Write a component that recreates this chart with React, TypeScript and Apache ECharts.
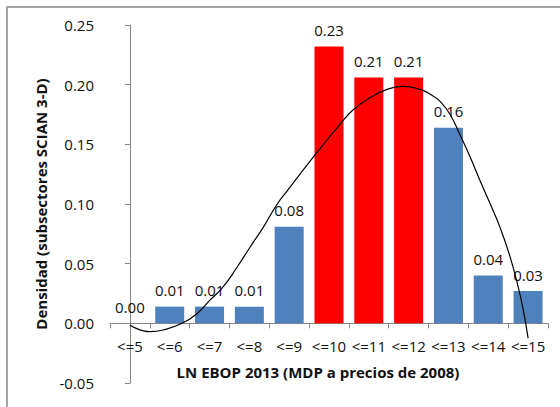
import React, { useEffect, useRef } from "react";
import * as echarts from "echarts";

const categories = ["<=5", "<=6", "<=7", "<=8", "<=9", "<=10", "<=11", "<=12", "<=13", "<=14", "<=15"];
const density = [0.0, 0.014, 0.014, 0.014, 0.081, 0.232, 0.206, 0.206, 0.164, 0.04, 0.027];
const highlighted = ["<=10", "<=11", "<=12"];
const yTicks = [-0.05, 0.0, 0.05, 0.1, 0.15, 0.2, 0.25];

// fitted curve (x in category positions, 0 = "<=5")
const curveX = [0.0, 0.51, 0.83, 1.31, 1.69, 2.01, 2.34, 2.69, 3.02, 3.34, 3.7, 3.95, 4.6, 5.28, 5.61, 6.03, 6.46, 6.86, 7.29, 7.54, 7.79, 8.04, 8.29, 8.55, 8.8, 9.05, 9.3, 9.55, 9.75, 9.88, 10.0];
const curveY = [-0.0014, -0.007, -0.0056, 0.0, 0.0083, 0.0194, 0.0306, 0.047, 0.064, 0.08, 0.1, 0.111, 0.139, 0.167, 0.179, 0.189, 0.196, 0.1986, 0.196, 0.192, 0.186, 0.175, 0.158, 0.139, 0.119, 0.1, 0.08, 0.0555, 0.0306, 0.011, -0.0125];

const FONT = "'Open Sans', sans-serif";
const GRID_TOP = 25;
const GRID_BOTTOM = 24;
const HEIGHT = 407;

export default function App() {
  const ref = useRef<HTMLDivElement>(null);
  useEffect(() => {
    if (!ref.current) return;
    const chart = echarts.init(ref.current, undefined, { renderer: "svg" });
    const yMin = yTicks[0];
    const yMax = yTicks[yTicks.length - 1];
    const plotH = HEIGHT - GRID_TOP - GRID_BOTTOM;
    // distance between the plot's bottom edge and the zero line
    const zeroOffset = ((0 - yMin) / (yMax - yMin)) * plotH;
    chart.setOption({
      animation: false,
      backgroundColor: "#fff",
      textStyle: { fontFamily: FONT },
      graphic: [
        {
          type: "rect",
          shape: { x: 7, y: 7, width: 620, height: 460 },
          style: { fill: "none", stroke: "#a6a6a6", lineWidth: 2 },
          silent: true,
        },
      ],
      grid: { left: 110, right: 12, top: GRID_TOP, bottom: GRID_BOTTOM, outerBoundsMode: "none", containLabel: false },
      xAxis: [
        {
          type: "category",
          data: categories,
          position: "bottom",
          offset: -zeroOffset,
          axisLine: { onZero: false, lineStyle: { color: "#868686", width: 1 } },
          axisTick: { show: true, length: 5, lineStyle: { color: "#868686" } },
          axisLabel: { color: "#111", fontSize: 15, fontFamily: FONT, margin: 15, interval: 0 },
          name: "LN EBOP 2013 (MDP a precios de 2008)",
          nameLocation: "middle",
          nameGap: 41,
          nameTextStyle: { color: "#111", fontSize: 15, fontWeight: "bold", fontFamily: FONT, padding: [0, 22, 0, 0] },
        },
        {
          type: "value",
          min: -0.5,
          max: 10.5,
          show: false,
        },
      ],
      yAxis: {
        type: "value",
        min: yMin,
        max: yMax,
        interval: 0.05,
        axisLine: { show: true, lineStyle: { color: "#868686", width: 1 } },
        axisTick: { show: true, length: 5, lineStyle: { color: "#868686" } },
        splitLine: { show: false },
        axisLabel: {
          color: "#111",
          fontSize: 15,
          fontFamily: FONT,
          margin: 16,
          formatter: (v: number) => v.toFixed(2),
        },
        name: "Densidad (subsectores SCIAN 3-D)",
        nameLocation: "middle",
        nameGap: 61,
        nameTextStyle: { color: "#111", fontSize: 15, fontWeight: "bold", fontFamily: FONT },
      },
      series: [
        {
          type: "bar",
          xAxisIndex: 0,
          data: density.map((v, i) => ({
            value: v,
            itemStyle: { color: highlighted.includes(categories[i]) ? "#ff0000" : "#4f81bd" },
          })),
          barWidth: 29,
          label: {
            show: true,
            position: "top",
            distance: 9,
            color: "#111",
            fontSize: 15,
            fontFamily: FONT,
            formatter: (p: any) => Number(p.value).toFixed(2),
          },
        },
        {
          type: "line",
          xAxisIndex: 1,
          data: curveX.map((x, i) => [x, curveY[i]]),
          smooth: true,
          showSymbol: false,
          lineStyle: { color: "#000", width: 1.2 },
          z: 5,
        },
      ],
    });
    return () => chart.dispose();
  }, []);
  return <div ref={ref} style={{ width: 560, height: 407, position: "absolute", left: 0, top: 0 }} />;
}
